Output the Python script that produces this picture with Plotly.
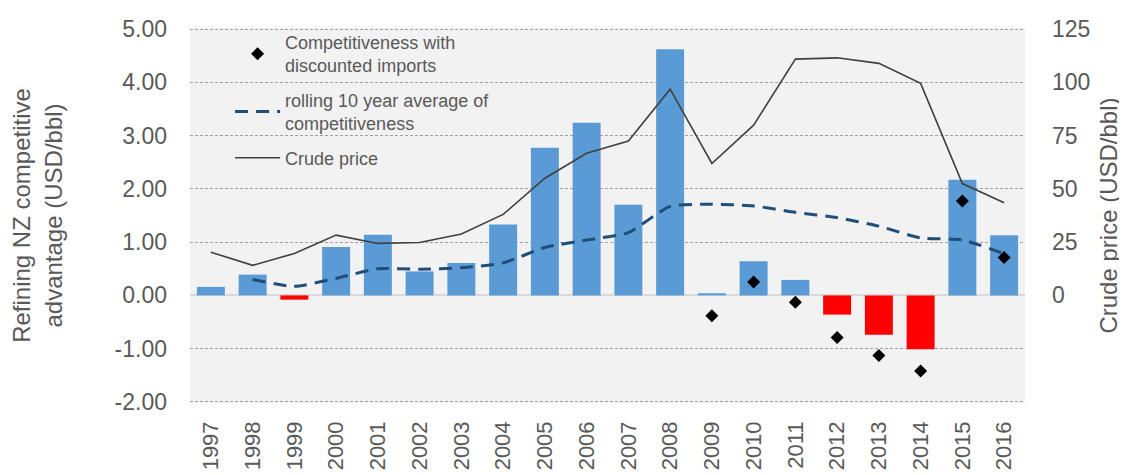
import plotly.graph_objects as go

years = [str(y) for y in range(1997, 2017)]
competitiveness = [0.16, 0.39, -0.08, 0.91, 1.14, 0.45, 0.61, 1.33, 2.77, 3.24,
                   1.70, 4.62, 0.04, 0.64, 0.29, -0.36, -0.74, -1.01, 2.17, 1.13]
discounted_years = ["2009", "2010", "2011", "2012", "2013", "2014", "2015", "2016"]
discounted = [-0.38, 0.25, -0.13, -0.79, -1.13, -1.42, 1.77, 0.71]
rolling_years = [str(y) for y in range(1998, 2017)]
rolling_avg = [0.30, 0.17, 0.32, 0.50, 0.49, 0.52, 0.61, 0.90, 1.04, 1.18,
               1.67, 1.71, 1.68, 1.56, 1.46, 1.30, 1.08, 1.04, 0.78]
crude_price = [20.3, 14.1, 19.7, 28.3, 24.4, 24.8, 28.8, 38.0, 55.0, 66.7,
               72.5, 96.8, 61.9, 79.9, 110.9, 111.5, 108.9, 99.5, 52.5, 43.5]
left_ticks = [-2, -1, 0, 1, 2, 3, 4, 5]
left_ticktext = ["-2.00", "-1.00", "0.00", "1.00", "2.00", "3.00", "4.00", "5.00"]
right_ticks = [0, 25, 50, 75, 100, 125]

FONT = "Liberation Sans, Arial, sans-serif"
GRAY = "#595959"

bar_colors = ["#5B9BD5" if v >= 0 else "#FF0000" for v in competitiveness]

fig = go.Figure()
fig.add_trace(go.Bar(x=years, y=competitiveness, marker_color=bar_colors,
                     marker_line_width=0, showlegend=False, yaxis="y"))
fig.add_trace(go.Scatter(x=discounted_years, y=discounted, mode="markers",
                         marker=dict(symbol="diamond", size=10, color="black"),
                         name="Competitiveness with<br>discounted imports", yaxis="y",
                         legendgroup="a"))
fig.add_trace(go.Scatter(x=rolling_years, y=rolling_avg, mode="lines",
                         line=dict(color="#1F4E79", width=3, dash="13px,8px", shape="spline", smoothing=0.6),
                         name="rolling 10 year average of<br>competitiveness", yaxis="y",
                         legendgroup="b"))
fig.add_trace(go.Scatter(x=years, y=crude_price, mode="lines",
                         line=dict(color="#404040", width=1.6),
                         name="Crude price", yaxis="y2", legendgroup="c"))

fig.update_layout(
    width=1119, height=467,
    margin=dict(l=182, r=102, t=20, b=72, autoexpand=False),
    paper_bgcolor="white", plot_bgcolor="#F2F2F2",
    font=dict(family=FONT, color=GRAY, size=20),
    bargap=0.33,
    xaxis=dict(type="category", tickangle=-90, tickfont=dict(size=22, color=GRAY),
               showgrid=False, showline=False, ticks="", range=[-0.5, 19.5],
               ticklabelstandoff=13),
    yaxis=dict(range=[-2.02, 5.02], tickvals=left_ticks, ticktext=left_ticktext,
               tickfont=dict(size=23, color=GRAY), showgrid=True, gridcolor="#A0A0A0",
               griddash="3px,2px", gridwidth=1, zeroline=True, zerolinecolor="#D9D9D9",
               zerolinewidth=1.5, ticks="", ticklen=0, ticklabelstandoff=22,
               title=dict(text="Refining NZ competitive<br>advantage (USD/bbl)",
                          font=dict(size=24, color=GRAY), standoff=45)),
    yaxis2=dict(range=[-50.5, 125.5], tickvals=right_ticks, overlaying="y",
                side="right", showgrid=False, zeroline=False,
                tickfont=dict(size=23, color=GRAY), ticks="", ticklabelstandoff=26,
                title=dict(text="Crude price (USD/bbl)", font=dict(size=24, color=GRAY), standoff=10)),
    legend=dict(x=0.048, y=1.011, xanchor="left", yanchor="top", bgcolor="rgba(0,0,0,0)",
                font=dict(size=18, color=GRAY), tracegroupgap=8, traceorder="grouped",
                itemwidth=45),
)

fig.write_html("out.html")
